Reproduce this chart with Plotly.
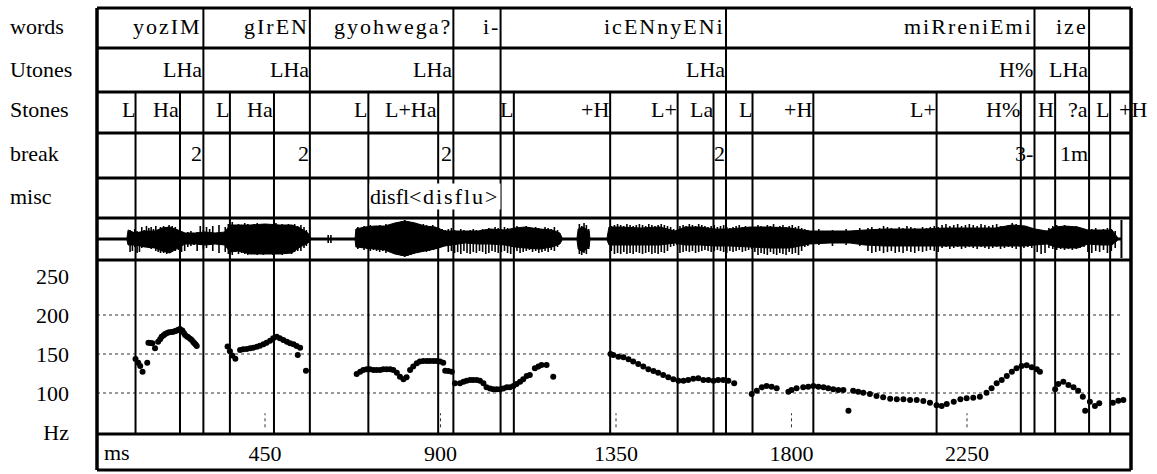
import plotly.graph_objects as go

# ---------------- label tiers (time in ms, label text) ----------------
word_ms = [292, 565, 933, 1054, 1632, 2423, 2563]
word_text = ["yozIM", "gIrEN", "gyohwega?", "i-", "icENnyENi", "miRreniEmi", "ize"]

utone_ms = [292, 565, 933, 1054, 1632, 2423, 2563]
utone_text = ["LHa", "LHa", "LHa", "", "LHa", "H%", "LHa"]

stone_ms = [118, 232, 292, 360, 473, 565, 715, 894, 933, 1054, 1088, 1335,
            1508, 1600, 1632, 1700, 1856, 2172, 2388, 2423, 2476, 2563, 2617, 2714]
stone_text = ["L", "Ha", "", "L", "Ha", "", "L", "L+Ha", "", "", "L", "+H",
              "L+", "La", "", "L", "+H", "L+", "H%", "", "H", "?a", "L", "+H"]

break_ms = [292, 565, 933, 1632, 2423, 2563]
break_text = ["2", "2", "2", "2", "3-", "1m"]

misc_ms = [894, 1054]
misc_text = ["disfl<", "disflu>"]

# ---------------- F0 track (ms, Hz) ----------------
f0_ms = [118, 125, 130, 136, 148,
         151, 156, 161, 168, 176, 181, 185, 190, 194, 199, 204, 210, 215, 220, 224, 228,
         232, 238, 242, 245, 250, 253, 258, 262, 266, 269, 272, 275,
         354, 360, 366, 374,
         386, 394, 403, 412, 420, 429, 437, 446, 454, 463, 471, 480, 488, 497, 506, 514,
         523, 531, 540, 534, 555,
         685, 694, 702, 711, 719, 728, 736, 745, 753, 762, 771, 779, 788, 796, 805, 813,
         822, 830, 839, 847, 856, 865, 873, 882, 890, 899, 907, 912, 920, 929,
         937, 950, 959, 967, 976, 984, 993, 1001, 1010, 1018, 1027, 1035, 1044, 1053, 1061,
         1070, 1078, 1087, 1095, 1104, 1112, 1121, 1129, 1142, 1151, 1159, 1172, 1189,
         1336, 1343, 1356, 1369, 1382, 1394, 1407, 1420, 1433, 1446, 1458, 1471, 1484, 1497,
         1510, 1523, 1535, 1548, 1561, 1574, 1587, 1600, 1612, 1625, 1638, 1653,
         1698, 1711, 1724, 1736, 1749, 1762, 1792, 1800, 1813, 1830, 1843, 1856, 1869, 1882,
         1894, 1907, 1920, 1933, 1946, 1958, 1971, 1984, 2001, 2018, 2035, 2053, 2070, 2087,
         2104, 2121, 2138, 2155, 2172, 2185, 2198, 2216, 2233, 2249, 2266, 2283, 2300, 2313,
         2326, 2339, 2352, 2365, 2377, 2390, 2403, 2416, 2429, 2437,
         2476, 2484, 2497, 2510, 2523, 2535, 2547, 2553, 2565, 2578, 2589, 2624, 2638, 2651]
f0_hz = [143.6, 138.9, 134.6, 127.3, 138.9,
         164.5, 164.0, 163.7, 157.5, 165.8, 169.0, 172.2, 174.0, 175.6, 177.0, 177.8, 178.3,
         178.6, 179.5, 180.0, 181.0,
         182.0, 180.0, 177.0, 174.4, 172.5, 171.4, 169.5, 167.9, 165.5, 163.7, 162.0, 160.3,
         159.5, 153.5, 148.0, 144.0,
         155.1, 156.0, 156.4, 157.3, 158.1, 159.4, 160.6, 162.4, 164.5, 167.1, 170.1, 172.2,
         170.1, 167.9, 165.8, 163.7,
         162.4, 160.3, 158.1, 148.7, 128.6,
         124.4, 127.3, 129.5, 130.3, 130.3, 129.5, 129.5, 129.5, 130.3, 130.3, 130.3, 129.5,
         126.0, 120.9, 117.5, 120.1,
         129.5, 133.8, 138.0, 140.2, 141.0, 141.0, 141.0, 141.0, 141.0, 140.2, 138.9, 128.6,
         128.2, 127.3,
         112.4, 112.4, 114.5, 115.8, 116.7, 116.7, 116.7, 115.8, 112.4, 107.3, 105.6, 104.7,
         104.7, 104.7, 105.6,
         107.3, 107.3, 109.0, 111.5, 114.5, 117.5, 121.8, 123.1, 131.7, 133.8, 135.9, 135.9,
         120.9,
         150.0, 148.7, 146.5, 145.7, 143.2, 140.2, 137.2, 133.8, 130.3, 128.2, 126.0, 123.1,
         120.1, 117.5,
         115.8, 115.8, 116.7, 118.3, 118.8, 116.7, 116.7, 115.8, 116.7, 116.7, 115.8, 112.4,
         98.7, 103.0, 107.3, 109.0, 108.1, 106.0, 101.7, 103.8, 106.0, 107.3, 108.1, 109.0,
         108.1, 107.3,
         106.0, 104.7, 103.8, 103.8, 77.3, 103.0, 101.7, 100.4, 98.7, 96.2, 94.4, 92.7, 91.9,
         91.9,
         91.0, 91.0, 89.7, 87.6, 84.2, 83.3, 85.9, 88.8, 91.9, 93.2, 94.0, 95.3, 100.4, 106.0,
         112.4, 116.7, 121.8, 127.3, 131.7, 134.6, 135.5, 132.9, 130.3, 127.3,
         104.7, 111.5, 114.5, 110.3, 107.3, 103.0, 95.3, 77.3, 88.8, 83.3, 86.8, 87.6, 90.1,
         91.0]

grid_hz = [100, 150, 200]
hz_ticks = [50, 100, 150, 200, 250]
hz_ticktext = ["Hz", "100", "150", "200", "250"]
time_ticks = [450, 900, 1350, 1800, 2250]
time_ticktext = ["450", "900", "1350", "1800", "2250"]

# ---------------- waveform envelope (ms, upper / lower amplitude) ----------------
wave_ms = [19, 96, 99, 117, 142, 168, 186, 206, 227, 245, 271, 296, 322, 347, 360, 381,
           412, 450, 488, 519, 540, 560, 568, 681, 683, 706, 732, 757, 783, 809, 835, 860,
           886, 911, 932, 963, 996, 1027, 1065, 1091, 1117, 1155, 1186, 1206, 1212, 1250,
           1253, 1265, 1281, 1283, 1327, 1332, 1360, 1412, 1463, 1501, 1527, 1565, 1604,
           1642, 1694, 1745, 1796, 1847, 1899, 1950, 1988, 2039, 2091, 2142, 2193, 2257,
           2322, 2365, 2399, 2424, 2455, 2476, 2501, 2534, 2560, 2591, 2622, 2637, 2645]
wave_top = [1, 1, 9, 6, 8, 8, 11, 12, 9, 6, 6, 7, 6, 7, 14, 14, 14, 15, 14, 14, 11, 6, 1, 1,
            10, 12, 13, 13, 16, 18, 16, 13, 12, 8, 8, 8, 8, 10, 9, 11, 12, 10, 9, 6, 1, 1, 10,
            12, 8, 1, 1, 12, 12, 11, 12, 8, 12, 12, 10, 10, 12, 12, 11, 8, 8, 8, 9, 10, 10, 10,
            11, 11, 11, 14, 13, 10, 8, 12, 13, 12, 9, 9, 9, 1, 1]
wave_bot = [-1, -1, -6, -6, -8, -9, -12, -14, -9, -5, -5, -6, -5, -6, -13, -12, -15, -15,
            -15, -14, -8, -4, -1, -1, -8, -9, -10, -11, -15, -17, -14, -12, -10, -7, -6, -4,
            -5, -5, -6, -8, -9, -10, -8, -5, -1, -1, -10, -13, -8, -1, -1, -6, -6, -6, -6, -4,
            -6, -6, -7, -7, -8, -9, -9, -5, -4, -4, -6, -7, -7, -7, -7, -7, -7, -7, -7, -6, -5,
            -8, -9, -9, -5, -6, -6, -1, -1]

# individual excursions that stick out of the envelope
spike_ms = [104, 110, 116, 122, 128, 134, 140, 146, 152, 158, 164, 170, 176, 182, 190, 198,
            204, 212, 220, 228, 236, 244, 252, 260, 268, 276, 284, 292, 300,
            308, 316, 324, 332, 340, 348, 356,
            366, 374, 382, 390, 398, 406, 414, 422, 430, 438, 446, 454, 462, 470, 478, 486,
            494, 502, 510, 518, 526, 534, 542, 550, 556,
            612, 619,
            688, 696, 704, 712, 720, 728, 736, 744, 752, 760, 768, 776, 784, 792, 800, 808,
            816, 824, 832, 840, 848, 856, 864, 872, 880, 888, 896, 904, 912, 920, 928,
            936, 944, 952, 960, 968, 976, 984, 992, 1000, 1008, 1016, 1024, 1032, 1040, 1048,
            1056, 1064, 1072, 1080, 1088, 1096, 1104, 1112, 1120, 1128, 1136, 1144, 1152,
            1160, 1168, 1176, 1184, 1192, 1200,
            1256, 1262, 1268, 1274, 1280,
            1338, 1346, 1354, 1362, 1370, 1378, 1386, 1394, 1402, 1410, 1418, 1426, 1434,
            1442, 1450, 1458, 1466, 1474, 1482, 1490, 1498,
            1506, 1514, 1522, 1530, 1538, 1546, 1554, 1562, 1570, 1578, 1586, 1594, 1602,
            1610, 1618, 1626, 1634, 1642, 1650, 1658, 1666, 1674, 1682, 1690, 1698,
            1706, 1714, 1722, 1730, 1738, 1746, 1754, 1762, 1770, 1778, 1786, 1794, 1802,
            1810, 1818, 1826, 1834, 1842,
            1870, 1905, 1940, 1975,
            1996, 2006, 2016, 2026, 2036, 2046, 2056, 2066, 2076, 2086, 2096, 2106, 2116,
            2126, 2136, 2146, 2156, 2166, 2176,
            2186, 2196, 2206, 2216, 2226, 2236, 2246, 2256, 2266, 2276, 2286, 2296, 2306,
            2316, 2326, 2336, 2346, 2356, 2366, 2376, 2386, 2396, 2406, 2416,
            2430, 2440, 2450, 2460, 2470, 2480, 2490, 2500, 2510, 2520, 2530, 2540, 2550,
            2560, 2570, 2580, 2590, 2600, 2610, 2620, 2630]
spike_top = [9, 7, 10, 8, 7, 12, 9, 13, 11, 12, 10, 13, 9, 12, 13, 12,
             14, 13, 12, 8, 7, 6, 7, 8, 6, 7, 13, 9, 12,
             10, 13, 6, 14, 5, 12, 15,
             17, 14, 15, 13, 16, 15, 14, 15, 16, 14, 15, 15, 14, 15, 16, 14,
             15, 14, 15, 14, 15, 13, 14, 12, 9,
             4, 4,
             12, 10, 13, 11, 14, 12, 13, 14, 13, 15, 14, 13, 16, 17, 18, 19,
             18, 17, 16, 15, 14, 15, 14, 13, 14, 12, 11, 10, 9, 10, 11,
             9, 8, 10, 9, 8, 9, 10, 9, 8, 10, 9, 11, 10, 12, 11,
             10, 12, 11, 10, 12, 13, 12, 11, 13, 12, 11, 12, 11,
             10, 12, 11, 10, 12, 9,
             15, 13, 16, 14, 10,
             13, 14, 15, 14, 13, 15, 14, 13, 14, 15, 14, 13, 15,
             14, 13, 14, 15, 14, 13, 12, 10,
             9, 13, 14, 13, 15, 14, 13, 15, 14, 13, 12, 13, 14,
             12, 13, 14, 12, 11, 12, 13, 14, 12, 13, 12, 11,
             12, 14, 13, 12, 14, 13, 15, 12, 13, 14, 12, 13, 14,
             12, 13, 11, 10, 9,
             10, 9, 10, 11,
             11, 12, 10, 11, 13, 12, 11, 10, 12, 11, 13, 12, 11,
             10, 12, 11, 12, 13, 12,
             14, 15, 13, 14, 15, 13, 14, 15, 14, 13, 15, 14, 13,
             14, 15, 13, 12, 14, 16, 15, 14, 13, 12, 11,
             10, 9, 8, 11, 13, 14, 13, 14, 13, 12, 13, 11, 10,
             9, 10, 11, 9, 10, 11, 10, 8]
spike_bot = [-13, -12, -8, -14, -13, -9, -8, -8, -9, -10, -9, -12, -13, -14, -14, -15,
             -14, -13, -12, -11, -13, -12, -8, -7, -6, -12, -6, -10, -9,
             -6, -12, -5, -14, -6, -13, -15,
             -16, -13, -15, -14, -15, -16, -15, -15, -16, -15, -16, -15, -15, -16, -15, -15,
             -16, -15, -14, -15, -13, -12, -12, -9, -7,
             -4, -4,
             -10, -9, -11, -10, -12, -11, -12, -13, -12, -14, -13, -12, -15, -16, -17, -18,
             -17, -16, -15, -14, -13, -12, -13, -12, -11, -10, -9, -8, -7, -13, -12,
             -14, -13, -15, -12, -14, -15, -13, -14, -12, -13, -15, -14, -12, -13, -14,
             -13, -12, -14, -15, -13, -12, -14, -13, -12, -11, -13, -12, -14,
             -13, -12, -13, -11, -12, -8,
             -15, -16, -14, -15, -10,
             -12, -15, -14, -15, -13, -15, -14, -15, -13, -14, -15, -14, -13,
             -15, -14, -15, -13, -14, -12, -8, -7,
             -6, -14, -13, -12, -13, -12, -14, -13, -12, -11, -12, -13, -12,
             -11, -12, -13, -14, -12, -13, -12, -11, -13, -12, -11, -10,
             -13, -16, -14, -15, -16, -13, -15, -16, -14, -15, -16, -13, -15,
             -14, -16, -12, -8, -7,
             -6, -7, -6, -7,
             -12, -14, -13, -12, -14, -13, -12, -14, -13, -14, -12, -13, -14,
             -12, -13, -12, -11, -12, -13,
             -9, -8, -10, -9, -8, -10, -9, -8, -9, -10, -8, -9, -10,
             -9, -8, -10, -9, -8, -9, -10, -8, -9, -8, -9,
             -13, -15, -14, -9, -10, -11, -10, -11, -10, -11, -10, -9, -8,
             -13, -14, -12, -13, -11, -14, -12, -9]

# ---------------- page geometry ----------------
FIG_W, FIG_H = 1157, 474
M_L, M_R, M_T, M_B = 97, 26, 8, 4
PLOT_W = FIG_W - M_L - M_R
PLOT_H = FIG_H - M_T - M_B
X0, X1 = 19.2, 2670.5          # visible time span (ms)
WAVE_END = 2646                # end of the sampled signal (ms)

# row edges (pixel rows from the top of the page)
ROW_EDGES = [8, 48, 92, 133, 178, 218, 260, 434, 470]


def py(px):
    """pixel row -> paper fraction"""
    return (FIG_H - M_B - px) / PLOT_H


def px_x(px):
    """pixel column -> paper fraction"""
    return (px - M_L) / PLOT_W


FONT = "Liberation Serif, Times New Roman, serif"
FS = 22

fig = go.Figure()

# waveform: filled envelope plus the excursions
fig.add_trace(go.Scatter(x=wave_ms, y=wave_top, mode="lines", line=dict(color="black", width=1),
                         yaxis="y2", hoverinfo="skip", showlegend=False))
fig.add_trace(go.Scatter(x=wave_ms, y=wave_bot, mode="lines", line=dict(color="black", width=1),
                         fill="tonexty", fillcolor="black", yaxis="y2", hoverinfo="skip",
                         showlegend=False))
sx, sy = [], []
for t, a, b in zip(spike_ms, spike_top, spike_bot):
    sx += [t, t, None]
    sy += [a, b, None]
fig.add_trace(go.Scatter(x=sx, y=sy, mode="lines", line=dict(color="black", width=1.6),
                         yaxis="y2", hoverinfo="skip", showlegend=False, connectgaps=False))

# F0 dots
fig.add_trace(go.Scatter(x=f0_ms, y=f0_hz, mode="markers",
                         marker=dict(color="black", size=6, line=dict(width=0)),
                         yaxis="y", showlegend=False))

shapes = []
# dotted F0 grid
for h in grid_hz:
    shapes.append(dict(type="line", xref="x", yref="y", x0=X0, x1=WAVE_END, y0=h, y1=h,
                       line=dict(color="#333", width=1.2, dash="dot"), layer="below"))
# small time ticks inside the F0 panel
for t in time_ticks:
    shapes.append(dict(type="line", xref="x", yref="y", x0=t, x1=t, y0=56, y1=74,
                       line=dict(color="#333", width=1, dash="dot")))
# boundaries spanning Stones tier down to the F0 panel
for t in stone_ms:
    if X0 < t < X1:
        shapes.append(dict(type="line", xref="x", yref="paper", x0=t, x1=t,
                           y0=py(434), y1=py(92), line=dict(color="black", width=2)))
# word tier and Utones tier boundaries
for t in word_ms:
    shapes.append(dict(type="line", xref="x", yref="paper", x0=t, x1=t,
                       y0=py(48), y1=py(8), line=dict(color="black", width=2)))
for t in utone_ms:
    shapes.append(dict(type="line", xref="x", yref="paper", x0=t, x1=t,
                       y0=py(92), y1=py(48), line=dict(color="black", width=2)))
# end of the waveform
shapes.append(dict(type="line", xref="x", yref="paper", x0=WAVE_END, x1=WAVE_END,
                   y0=py(258), y1=py(220), line=dict(color="black", width=2)))
# horizontal rules and outer frame
for r in ROW_EDGES:
    shapes.append(dict(type="line", xref="paper", yref="paper", x0=0, x1=1,
                       y0=py(r), y1=py(r), line=dict(color="black", width=3)))
for xp in (0, 1):
    shapes.append(dict(type="line", xref="paper", yref="paper", x0=xp, x1=xp,
                       y0=py(470), y1=py(8), line=dict(color="black", width=3.5)))

annotations = []


def tier_labels(times, texts, row_center, bg=None, spacing=None, shifts=None):
    for i, (t, s) in enumerate(zip(times, texts)):
        if not s:
            continue
        if t <= X1:
            xv, xr = t, "x"
        else:
            xv, xr = (t - X0) / (X1 - X0), "paper"
        s = s.replace("<", "&lt;").replace(">", "&gt;")
        sp = spacing[i] if isinstance(spacing, list) else spacing
        if sp:
            s = '<span style="letter-spacing:%gpx">%s</span>' % (sp, s)
        annotations.append(dict(x=xv, xref=xr, y=py(row_center), yref="paper", text=s,
                                showarrow=False, xanchor="right", yanchor="middle",
                                xshift=shifts[i] if shifts else 0,
                                font=dict(family=FONT, size=FS, color="black"),
                                borderpad=0, bgcolor=bg if bg else "rgba(0,0,0,0)"))


tier_labels(word_ms, word_text, 27, spacing=2)
tier_labels(utone_ms, utone_text, 69)
tier_labels(stone_ms, stone_text, 110)
tier_labels(break_ms, break_text, 153)
# the two disfluency labels sit side by side
tier_labels(misc_ms, misc_text, 196, bg="white", spacing=[0, 2], shifts=[-15, 0])

tier_names = ["words", "Utones", "Stones", "break", "misc"]
name_rows = [27, 69, 110, 153, 196]
for name, r in zip(tier_names, name_rows):
    annotations.append(dict(x=px_x(8), xref="paper", y=py(r), yref="paper", text=name,
                            showarrow=False, xanchor="left", yanchor="middle",
                            font=dict(family=FONT, size=FS, color="black")))
annotations.append(dict(x=px_x(102), xref="paper", y=py(452), yref="paper", text="ms",
                        showarrow=False, xanchor="left", yanchor="middle",
                        font=dict(family=FONT, size=FS, color="black")))

fig.update_layout(
    width=FIG_W, height=FIG_H,
    margin=dict(l=M_L, r=M_R, t=M_T, b=M_B),
    paper_bgcolor="white", plot_bgcolor="white",
    showlegend=False,
    xaxis=dict(range=[X0, X1], domain=[0, 1], anchor="y", showgrid=False, zeroline=False,
               showline=False, ticks="", tickvals=time_ticks, ticktext=time_ticktext,
               ticklabelstandoff=4, automargin=False,
               tickfont=dict(family=FONT, size=FS, color="black")),
    yaxis=dict(domain=[py(434), py(260)], range=[47.4, 270.5], showgrid=False,
               zeroline=False, showline=False, ticks="", tickvals=hz_ticks,
               ticktext=hz_ticktext, ticklabelstandoff=27, automargin=False,
               tickfont=dict(family=FONT, size=FS, color="black")),
    yaxis2=dict(domain=[py(260), py(218)], range=[-21, 21], visible=False, anchor="x"),
    shapes=shapes,
    annotations=annotations,
)

fig.write_html("out.html")
